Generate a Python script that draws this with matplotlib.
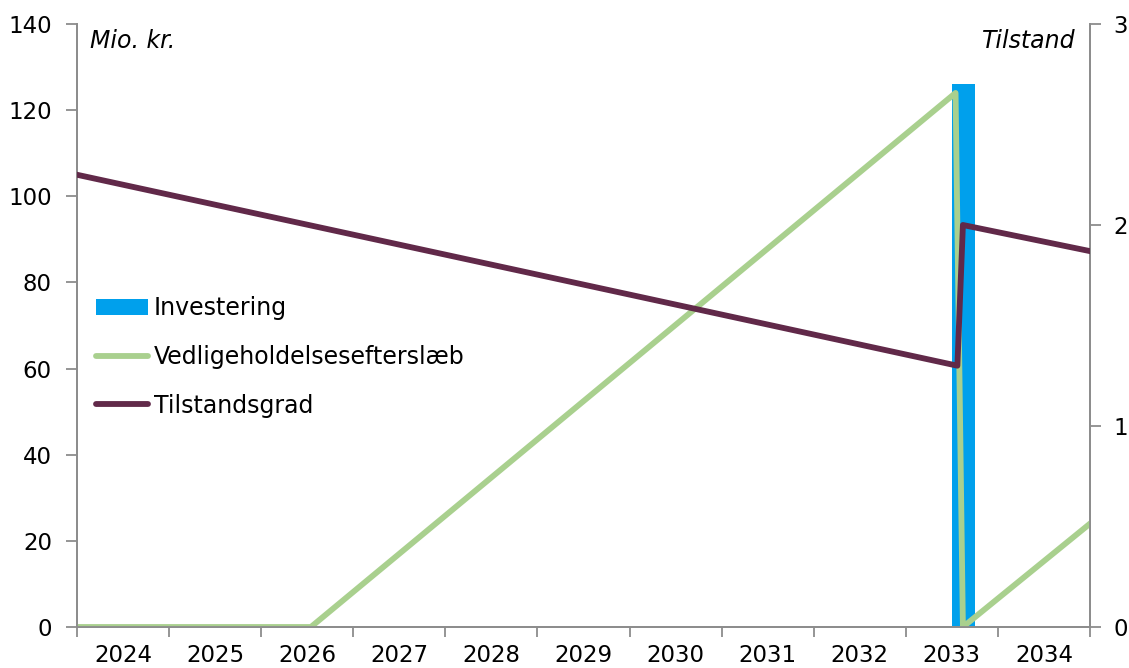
import matplotlib.pyplot as plt
from matplotlib.patches import Patch
from matplotlib.lines import Line2D

# year categories (each year spans one unit on the x axis)
years = ["2024", "2025", "2026", "2027", "2028", "2029",
         "2030", "2031", "2032", "2033", "2034"]

# investment bar (Mio. kr.)
invest_x = [9.625]
invest_val = [126]

# maintenance backlog (Mio. kr.), breakpoints of the line
backlog_x = [0, 2.54, 9.54, 9.62, 11]
backlog_val = [0, 0, 124, 0, 24]

# condition grade (right axis), breakpoints of the line
grade_x = [0, 9.56, 9.62, 11]
grade_val = [2.25, 1.30, 2.00, 1.87]

blue = "#00A0EC"
green = "#A9D08E"
purple = "#612949"
grey = "#8C8C8C"

plt.rcParams["font.family"] = "DejaVu Sans"
fs = 17
tfs = 16.5
lw = 4.2

fig = plt.figure(figsize=(11.29, 6.68), dpi=100)
ax = fig.add_axes([77 / 1129, 41 / 668, 1013 / 1129, 603 / 668])
ax2 = ax.twinx()

ax.bar(invest_x, invest_val, width=0.25, color=blue, zorder=2)
ax.plot(backlog_x, backlog_val, color=green, lw=lw, zorder=3)
ax2.plot(grade_x, grade_val, color=purple, lw=lw, zorder=3)

ax.set_xlim(0, 11)
ax.set_ylim(0, 140)
ax2.set_ylim(0, 3)
ax.set_yticks(range(0, 141, 20))
ax2.set_yticks([0, 1, 2, 3])

ax.set_xticks(range(0, 12))
ax.set_xticklabels([])
ax.set_xticks([i + 0.5 for i in range(len(years))], minor=True)
ax.set_xticklabels(years, minor=True)
ax.tick_params(axis="x", which="major", direction="out", length=7, color=grey, width=1.3)
ax.tick_params(axis="x", which="minor", length=0, pad=12, labelsize=tfs)
ax.tick_params(axis="y", direction="out", length=8, color=grey, width=1.3, labelsize=tfs, pad=10)
ax2.tick_params(axis="y", direction="out", length=8, color=grey, width=1.3, labelsize=tfs, pad=9)

for a in (ax, ax2):
    a.spines["top"].set_visible(False)
    for s in ("left", "right", "bottom"):
        a.spines[s].set_color(grey)
        a.spines[s].set_linewidth(1.3)

ax.text(90 / 1129, 1 - 41 / 668, "Mio. kr.", transform=fig.transFigure,
        fontsize=fs, style="italic", va="center", ha="left")
ax.text(1076 / 1129, 1 - 41 / 668, "Tilstand", transform=fig.transFigure,
        fontsize=fs, style="italic", va="center", ha="right")

handles = [
    Patch(facecolor=blue, edgecolor="none"),
    Line2D([], [], color=green, lw=lw, solid_capstyle="round"),
    Line2D([], [], color=purple, lw=lw, solid_capstyle="round"),
]
labels = ["Investering", "Vedligeholdelsesefterslæb", "Tilstandsgrad"]
fig.legend(handles, labels, loc="upper left",
           bbox_to_anchor=(96 / 1129, 1 - 296 / 668), frameon=False,
           fontsize=fs, handlelength=2.2, handleheight=0.65, handletextpad=0.25,
           labelspacing=1.05, borderpad=0, borderaxespad=0)

fig.savefig("out.png", dpi=100)
